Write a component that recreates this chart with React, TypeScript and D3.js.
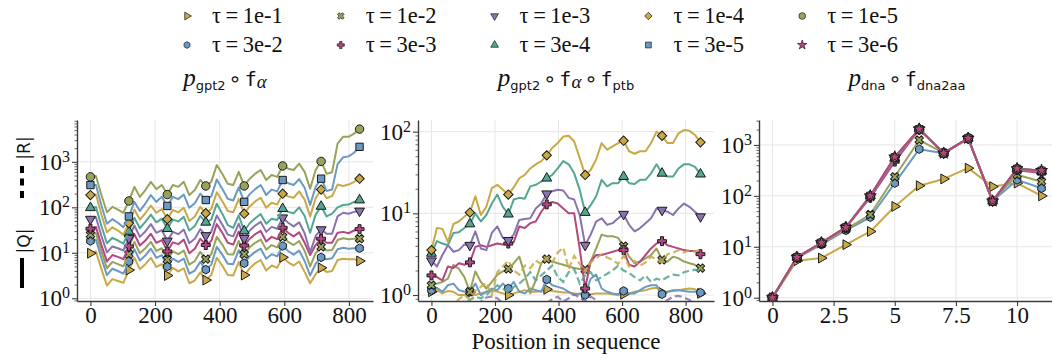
import React, { useRef, useEffect } from "react";
import * as d3 from "d3";

const WIDTH = 1052;
const HEIGHT = 359;

// legend entries, column by column as in the figure
const taus = ["1e-1", "3e-2", "1e-2", "3e-3", "1e-3", "3e-4", "1e-4", "3e-5", "1e-5", "3e-6"];
const tauColors = ["#c9a846", "#6a9ac3", "#98a35a", "#b3477f", "#8873ae", "#52a692", "#c9a846", "#6a9ac3", "#98a35a", "#b3477f"];
const tauMarkers = ["triRight", "hexagon", "xFilled", "plusFilled", "triDown", "triUp", "diamond", "square", "circle", "star"];

// ---------- p_gpt2 o f_alpha : |Q| at each sampled position (read as powers of ten) ----------
const gptPositions = d3.range(50).map((i) => i * 17);
const gptQ_1e1 = [0.99,1.03,0.64,0.28,0.42,0.38,0.34,0.62,0.89,0.64,0.75,0.89,0.69,0.75,0.50,0.67,0.59,0.66,0.33,0.39,0.57,0.40,0.51,0.89,0.72,0.51,0.50,0.80,0.51,0.66,0.77,0.84,0.61,0.72,0.67,0.90,0.79,0.72,0.81,0.58,0.33,0.53,0.67,0.58,0.60,0.84,0.87,0.86,0.86,0.82];
const gptQ_3e2 = [1.26,1.29,0.88,0.51,0.65,0.60,0.54,0.81,1.08,0.83,0.94,1.09,0.89,0.95,0.70,0.87,0.80,0.87,0.54,0.61,0.80,0.63,0.74,1.13,0.96,0.76,0.75,1.06,0.77,0.92,1.02,1.09,0.87,0.97,0.92,1.15,1.04,0.96,1.05,0.82,0.50,0.76,0.90,0.86,0.88,1.08,1.11,1.09,1.10,1.10];
const gptQ_1e2 = [1.40,1.43,1.03,0.66,0.80,0.75,0.70,0.97,1.24,0.99,1.10,1.24,1.04,1.10,0.85,1.03,0.97,1.05,0.74,0.82,1.02,0.86,0.97,1.35,1.18,0.97,0.96,1.26,0.97,1.12,1.22,1.29,1.07,1.17,1.12,1.35,1.24,1.17,1.26,1.04,0.70,0.99,1.13,1.05,1.06,1.28,1.32,1.30,1.31,1.31];
const gptQ_3e3 = [1.53,1.57,1.17,0.81,0.95,0.91,0.86,1.14,1.41,1.16,1.27,1.42,1.22,1.28,1.03,1.23,1.19,1.29,0.99,1.09,1.31,1.17,1.26,1.63,1.44,1.22,1.18,1.47,1.16,1.31,1.41,1.48,1.25,1.35,1.30,1.55,1.44,1.36,1.45,1.22,0.95,1.17,1.31,1.22,1.22,1.44,1.46,1.43,1.49,1.52];
const gptQ_1e3 = [1.74,1.78,1.37,1.01,1.14,1.10,1.05,1.32,1.60,1.35,1.47,1.63,1.44,1.50,1.26,1.46,1.41,1.51,1.21,1.31,1.52,1.38,1.46,1.82,1.62,1.40,1.36,1.64,1.32,1.49,1.60,1.68,1.46,1.57,1.53,1.77,1.66,1.58,1.67,1.43,1.01,1.37,1.51,1.42,1.42,1.80,1.88,1.86,1.90,1.92];
const gptQ_3e4 = [1.99,2.01,1.59,1.21,1.33,1.27,1.20,1.47,1.77,1.54,1.68,1.84,1.67,1.75,1.53,1.73,1.69,1.79,1.49,1.59,1.81,1.67,1.73,2.08,1.86,1.61,1.55,1.82,1.48,1.65,1.76,1.85,1.64,1.75,1.72,1.97,1.90,1.87,2.00,1.81,1.44,1.84,2.02,1.80,1.86,2.00,2.05,2.06,2.12,2.16];
const gptQ_1e4 = [2.27,2.28,1.84,1.45,1.56,1.49,1.40,1.65,1.95,1.73,1.87,2.04,1.88,1.96,1.74,1.94,1.89,1.99,1.70,1.80,2.01,1.87,1.96,2.33,2.14,1.92,1.89,2.18,1.86,2.02,2.13,2.21,1.99,2.10,2.06,2.30,2.24,2.21,2.35,2.17,1.80,2.20,2.39,2.20,2.25,2.50,2.47,2.50,2.56,2.63];
const gptQ_3e5 = [2.49,2.49,2.04,1.64,1.74,1.66,1.56,1.80,2.12,1.92,2.08,2.27,2.12,2.23,2.03,2.23,2.18,2.28,1.99,2.09,2.30,2.16,2.24,2.61,2.41,2.19,2.15,2.44,2.12,2.29,2.40,2.49,2.27,2.39,2.35,2.60,2.53,2.49,2.62,2.43,2.05,2.45,2.63,2.36,2.39,2.95,3.10,3.12,3.20,3.33];
const gptQ_1e5 = [2.67,2.69,2.27,1.89,2.01,1.95,1.88,2.14,2.45,2.23,2.38,2.56,2.40,2.49,2.28,2.49,2.45,2.56,2.27,2.38,2.60,2.47,2.56,2.93,2.74,2.52,2.49,2.78,2.47,2.63,2.74,2.82,2.60,2.71,2.67,2.91,2.85,2.82,2.96,2.78,2.41,2.82,3.01,2.74,2.77,3.40,3.55,3.55,3.62,3.72];

// ---------- p_gpt2 o f_alpha o f_ptb : |Q| (solid) and |R| (dashed), powers of ten ----------
const ptbPositions = d3.range(50).map((i) => i * 17.28);
const ptbQ_1e1 = [0.04,0.06,0.02,0.05,0.04,0.00,0.00,0.03,0.00,0.02,0.04,0.06,0.04,0.02,0.00,0.02,0.04,0.06,0.04,0.04,0.05,0.07,0.05,0.04,0.03,0.03,0.02,0.01,0.00,0.01,0.02,0.02,0.02,0.01,0.00,0.01,0.02,0.04,0.05,0.06,0.08,0.09,0.03,0.04,0.05,0.06,0.07,0.08,0.07,0.02];
const ptbQ_3e2 = [0.06,0.09,0.04,0.12,0.14,0.06,0.04,0.04,0.14,0.00,0.04,0.08,0.06,0.14,0.08,0.16,0.04,0.02,0.08,0.06,0.04,0.19,0.12,0.10,0.08,0.04,0.00,0.02,0.00,0.20,0.25,0.08,0.04,0.02,0.01,0.05,0.02,0.02,0.06,0.10,0.12,0.12,0.01,0.04,0.06,0.06,0.05,0.04,0.04,0.03];
const ptbQ_1e2 = [0.12,0.14,0.16,0.20,0.37,0.32,0.22,0.04,0.29,0.16,0.08,0.16,0.25,0.29,0.32,0.39,0.47,0.25,0.02,0.18,0.39,0.44,0.41,0.39,0.37,0.35,0.33,0.32,0.31,0.41,0.57,0.74,0.72,0.72,0.70,0.60,0.47,0.39,0.41,0.45,0.49,0.57,0.43,0.41,0.47,0.45,0.41,0.39,0.37,0.33];
const ptbQ_3e3 = [0.24,0.22,0.18,0.35,0.33,0.39,0.37,0.40,0.59,0.61,0.59,0.61,0.63,0.62,0.63,0.65,0.84,0.82,0.88,0.90,1.02,1.11,1.14,1.12,1.06,1.00,1.00,0.57,0.08,0.41,0.49,0.49,0.51,0.53,0.55,0.55,0.37,0.35,0.41,0.49,0.57,0.63,0.66,0.61,0.59,0.57,0.55,0.54,0.54,0.50];
const ptbQ_1e3 = [0.42,0.35,0.49,0.61,0.53,0.55,0.62,0.61,0.78,0.57,0.55,0.76,0.84,0.70,0.67,0.74,0.92,0.93,0.94,1.06,1.12,1.24,1.27,1.29,1.28,1.19,1.17,0.98,0.61,0.74,0.90,0.94,0.86,0.88,0.94,0.99,0.86,0.78,0.82,0.88,0.94,1.06,1.04,1.02,0.98,1.06,1.12,1.08,1.02,0.96];
const ptbQ_3e4 = [0.51,0.66,0.63,0.61,0.76,0.77,0.82,0.87,1.00,0.90,0.98,1.12,1.23,1.08,0.99,1.17,1.19,1.18,1.33,1.35,1.39,1.43,1.47,1.55,1.64,1.60,1.49,1.29,1.01,1.10,1.21,1.41,1.33,1.37,1.37,1.45,1.37,1.36,1.41,1.41,1.49,1.60,1.49,1.45,1.45,1.55,1.60,1.60,1.57,1.48];
const ptbQ_1e4 = [0.55,0.82,0.81,0.65,0.87,0.90,0.96,1.01,1.21,0.98,1.08,1.31,1.35,1.29,1.23,1.32,1.43,1.47,1.55,1.60,1.64,1.71,1.80,1.86,1.94,1.95,1.88,1.68,1.47,1.53,1.66,1.86,1.78,1.82,1.86,1.89,1.76,1.73,1.76,1.76,1.86,2.00,1.95,1.86,1.86,1.98,2.02,2.01,1.96,1.87];
const ptbR_1e3 = [-0.3,-0.3,-0.25,-0.3,-0.25,-0.2,-0.2,-0.15,-0.12,-0.08,-0.03,-0.02,-0.04,-0.1,-0.15,-0.2,-0.12,-0.15,-0.2,-0.18,-0.15,-0.1,-0.05,-0.02,-0.08,-0.04,0.01,-0.03,-0.08,-0.02,-0.06,-0.12,-0.2,-0.15,-0.1,-0.12,-0.1,-0.15,-0.2,-0.15,-0.1,-0.15,-0.12,-0.06,-0.02,-0.01,-0.03,-0.06,-0.12,-0.2];
const ptbR_3e4 = [-0.3,-0.25,-0.2,-0.2,-0.15,-0.1,-0.08,-0.06,-0.02,-0.04,0.0,0.06,0.12,0.08,0.03,0.10,0.14,0.20,0.28,0.18,0.24,0.30,0.36,0.22,0.16,0.28,0.32,0.14,0.24,0.28,0.18,0.22,0.26,0.30,0.36,0.30,0.27,0.22,0.18,0.24,0.16,0.20,0.18,0.22,0.25,0.24,0.28,0.30,0.31,0.29];
const ptbR_1e4 = [-0.15,-0.2,-0.15,-0.1,-0.12,-0.05,0.0,-0.05,0.05,0.10,0.15,0.0,0.28,0.35,0.42,0.30,0.25,0.36,0.33,0.42,0.38,0.46,0.40,0.52,0.58,0.32,0.48,0.38,0.28,0.40,0.45,0.50,0.46,0.43,0.38,0.48,0.35,0.42,0.36,0.40,0.47,0.44,0.40,0.50,0.52,0.55,0.52,0.55,0.53,0.56];

// ---------- p_dna o f_dna2aa : |Q| per position ----------
const dnaPositions = d3.range(12);
const dnaQ_1e1 = [1, 5.3, 6.0, 11, 20, 62, 158, 215, 350, 152, 178, 100];
const dnaQ_3e2 = [1, 6.0, 11, 21, 38, 178, 825, 690, 1350, 79, 206, 141];
const dnaQ_1e2 = [1, 6.1, 11.5, 22, 43, 237, 1250, 700, 1350, 80, 260, 190];
const dnaQ_3e3 = [1, 6.2, 12, 24, 92, 470, 2000, 690, 1350, 79, 320, 280];
const dnaQ_1e3 = [1, 6.2, 12, 24, 96, 530, 2030, 690, 1350, 79, 330, 295];
const dnaQ_3e4 = [1, 6.2, 12, 24, 100, 560, 2040, 690, 1350, 79, 335, 305];
const dnaQ_1e4 = [1, 6.2, 12, 24, 100, 570, 2040, 690, 1350, 79, 340, 310];
const dnaQ_3e5 = [1, 6.2, 12, 24, 100, 570, 2040, 690, 1350, 79, 340, 310];
const dnaQ_1e5 = [1, 6.2, 12, 24, 100, 575, 2045, 690, 1350, 79, 340, 312];
const dnaQ_3e6 = [1, 6.2, 12, 24, 100, 580, 2050, 690, 1350, 79, 342, 315];

// tick labels
const seqTicks = [0, 200, 400, 600, 800];
const dnaTicks = [0, 2.5, 5, 7.5, 10];

const SERIF = "Liberation Serif, Times New Roman, serif";
const SANS = "DejaVu Sans, sans-serif";
const MONO = "DejaVu Sans Mono, monospace";
const GRID = "#e6e6e6";
const AXIS = "#3c3c3c";

const TOP = 120;
const PH = 181;
const PW = 296;

const hexagon = {
  draw(ctx, size) {
    const r = Math.sqrt((2 * size) / (3 * Math.sqrt(3)));
    for (let k = 0; k < 6; k++) {
      const a = (Math.PI / 3) * k - Math.PI / 2;
      if (k === 0) ctx.moveTo(r * Math.cos(a), r * Math.sin(a));
      else ctx.lineTo(r * Math.cos(a), r * Math.sin(a));
    }
    ctx.closePath();
  },
};

const markerShapes = {
  triRight: { type: d3.symbolTriangle, rot: 90, size: 42 },
  hexagon: { type: hexagon, rot: 0, size: 48 },
  xFilled: { type: d3.symbolCross, rot: 45, size: 44 },
  plusFilled: { type: d3.symbolCross, rot: 0, size: 44 },
  triDown: { type: d3.symbolTriangle, rot: 180, size: 42 },
  triUp: { type: d3.symbolTriangle, rot: 0, size: 42 },
  diamond: { type: d3.symbolSquare, rot: 45, size: 44 },
  square: { type: d3.symbolSquare, rot: 0, size: 54 },
  circle: { type: d3.symbolCircle, rot: 0, size: 56 },
  star: { type: d3.symbolStar, rot: 0, size: 44 },
};

function markerPath(kind, scale = 1) {
  const m = markerShapes[kind];
  return d3.symbol().type(m.type).size(m.size * scale)();
}

function exp10(arr) {
  return arr.map((e) => Math.pow(10, e));
}

const gptSeries = [
  { tau: "1e-1", q: exp10(gptQ_1e1) },
  { tau: "3e-2", q: exp10(gptQ_3e2) },
  { tau: "1e-2", q: exp10(gptQ_1e2) },
  { tau: "3e-3", q: exp10(gptQ_3e3) },
  { tau: "1e-3", q: exp10(gptQ_1e3) },
  { tau: "3e-4", q: exp10(gptQ_3e4) },
  { tau: "1e-4", q: exp10(gptQ_1e4) },
  { tau: "3e-5", q: exp10(gptQ_3e5) },
  { tau: "1e-5", q: exp10(gptQ_1e5) },
];

const ptbSeries = [
  { tau: "1e-1", q: exp10(ptbQ_1e1) },
  { tau: "3e-2", q: exp10(ptbQ_3e2) },
  { tau: "1e-2", q: exp10(ptbQ_1e2) },
  { tau: "3e-3", q: exp10(ptbQ_3e3) },
  { tau: "1e-3", q: exp10(ptbQ_1e3), r: exp10(ptbR_1e3) },
  { tau: "3e-4", q: exp10(ptbQ_3e4), r: exp10(ptbR_3e4) },
  { tau: "1e-4", q: exp10(ptbQ_1e4), r: exp10(ptbR_1e4) },
];

const dnaSeries = [
  { tau: "1e-1", q: dnaQ_1e1 },
  { tau: "3e-2", q: dnaQ_3e2 },
  { tau: "1e-2", q: dnaQ_1e2 },
  { tau: "3e-3", q: dnaQ_3e3 },
  { tau: "1e-3", q: dnaQ_1e3 },
  { tau: "3e-4", q: dnaQ_3e4 },
  { tau: "1e-4", q: dnaQ_1e4 },
  { tau: "3e-5", q: dnaQ_3e5 },
  { tau: "1e-5", q: dnaQ_1e5 },
  { tau: "3e-6", q: dnaQ_3e6 },
];

const sub = (t, dy) => ({ t, font: SANS, size: 13, dy });
const ring = (dy) => ({ t: "\u2218", font: SANS, size: 21, dy, dx: 3 });
const titleGpt = [
  { t: "p", font: SERIF, size: 25, italic: true },
  sub("gpt2", 4),
  ring(-4),
  { t: "f", font: MONO, size: 20, dx: 3 },
  { t: "\u03b1", font: SERIF, size: 19, italic: true, dy: 2 },
];
const titlePtb = [
  ...titleGpt,
  ring(-2),
  { t: "f", font: MONO, size: 20, dx: 3 },
  sub("ptb", 4),
];
const titleDna = [
  { t: "p", font: SERIF, size: 25, italic: true },
  sub("dna", 4),
  ring(-4),
  { t: "f", font: MONO, size: 20, dx: 3 },
  sub("dna2aa", 4),
];

const panels = [
  { left: 77, xDomain: [-41.6, 874.6], yDomain: [Math.pow(10, -0.06), Math.pow(10, 3.92)], xTicks: seqTicks, positions: gptPositions, markEvery: 7, series: gptSeries, title: titleGpt },
  { left: 418, xDomain: [-42.35, 889.35], yDomain: [Math.pow(10, -0.073), Math.pow(10, 2.143)], xTicks: seqTicks, positions: ptbPositions, markEvery: 7, series: ptbSeries, title: titlePtb },
  { left: 759, xDomain: [-0.55, 11.55], yDomain: [Math.pow(10, -0.065), Math.pow(10, 3.49)], xTicks: dnaTicks, positions: dnaPositions, markEvery: 1, series: dnaSeries, title: titleDna },
];

function drawPanel(svg, p, idx) {
  const g = svg.append("g").attr("transform", `translate(${p.left},${TOP})`);
  const x = d3.scaleLinear().domain(p.xDomain).range([0, PW]);
  const y = d3.scaleLog().domain(p.yDomain).range([PH, 0]);

  const lo = Math.floor(Math.log10(p.yDomain[0]));
  const hi = Math.ceil(Math.log10(p.yDomain[1]));
  const majors = d3.range(lo, hi + 1).map((k) => Math.pow(10, k)).filter((v) => v >= p.yDomain[0] && v <= p.yDomain[1]);
  const minors = [];
  d3.range(lo, hi + 1).forEach((k) => {
    d3.range(2, 10).forEach((m) => {
      const v = m * Math.pow(10, k);
      if (v >= p.yDomain[0] && v <= p.yDomain[1]) minors.push(v);
    });
  });

  // grid
  g.append("g").selectAll("line").data(p.xTicks).join("line")
    .attr("x1", (d) => x(d)).attr("x2", (d) => x(d)).attr("y1", 0).attr("y2", PH)
    .attr("stroke", GRID).attr("stroke-width", 1);
  g.append("g").selectAll("line").data(majors).join("line")
    .attr("x1", 0).attr("x2", PW).attr("y1", (d) => y(d)).attr("y2", (d) => y(d))
    .attr("stroke", GRID).attr("stroke-width", 1);

  // data
  const clipId = `panel-clip-${idx}`;
  g.append("clipPath").attr("id", clipId).append("rect").attr("width", PW).attr("height", PH);
  const plot = g.append("g").attr("clip-path", `url(#${clipId})`);
  const line = d3.line().x((d) => x(d[0])).y((d) => y(d[1]));

  p.series.forEach((s) => {
    const ti = taus.indexOf(s.tau);
    const color = tauColors[ti];
    const shape = markerShapes[tauMarkers[ti]];
    const pts = s.q.map((v, i) => [p.positions[i], v]);
    plot.append("path").attr("d", line(pts))
      .attr("fill", "none").attr("stroke", color).attr("stroke-width", 2)
      .attr("stroke-linejoin", "round");
    if (s.r) {
      const rpts = s.r.map((v, i) => [p.positions[i], v]);
      plot.append("path").attr("d", line(rpts))
        .attr("fill", "none").attr("stroke", color).attr("stroke-width", 2.2)
        .attr("stroke-dasharray", "7,3.5").attr("opacity", 0.85);
    }
    const marks = pts.filter((_, i) => i % p.markEvery === 0);
    plot.append("g").selectAll("path").data(marks).join("path")
      .attr("d", markerPath(tauMarkers[ti]))
      .attr("transform", (d) => `translate(${x(d[0])},${y(d[1])}) rotate(${shape.rot})`)
      .attr("fill", color).attr("stroke", "#1a1a1a").attr("stroke-width", 1);
  });

  // x axis
  const xAxis = g.append("g").attr("transform", `translate(0,${PH})`)
    .call(d3.axisBottom(x).tickValues(p.xTicks).tickSize(5).tickSizeOuter(0).tickPadding(1).tickFormat((d) => String(d)));
  xAxis.select(".domain").attr("stroke", AXIS).attr("stroke-width", 1.4);
  xAxis.selectAll(".tick line").attr("stroke", AXIS).attr("stroke-width", 1.1);
  xAxis.selectAll(".tick text").style("font-family", SERIF).style("font-size", "23px").attr("fill", "#111");

  // y axis
  const yAxis = g.append("g")
    .call(d3.axisLeft(y).tickValues(majors).tickSize(5).tickSizeOuter(0).tickFormat(() => ""));
  yAxis.select(".domain").attr("stroke", AXIS).attr("stroke-width", 1.4);
  yAxis.selectAll(".tick line").attr("stroke", AXIS).attr("stroke-width", 1.1);
  const yMinor = g.append("g")
    .call(d3.axisLeft(y).tickValues(minors).tickSize(2.5).tickSizeOuter(0).tickFormat(() => ""));
  yMinor.select(".domain").remove();
  yMinor.selectAll(".tick line").attr("stroke", AXIS).attr("stroke-width", 0.8);

  const labels = g.append("g").selectAll("text").data(majors).join("text")
    .attr("x", -7).attr("y", (d) => y(d) + 8)
    .attr("text-anchor", "end").style("font-family", SERIF).style("font-size", "23px").attr("fill", "#111");
  labels.append("tspan").text("10");
  labels.append("tspan").style("font-size", "16px").attr("dy", -8).text((d) => String(Math.round(Math.log10(d))));

  // title
  const title = svg.append("text").attr("x", p.left + PW / 2).attr("y", 86)
    .attr("text-anchor", "middle").attr("fill", "#111");
  p.title.forEach((part) => {
    const ts = title.append("tspan").style("font-family", part.font).style("font-size", `${part.size}px`).text(part.t);
    if (part.italic) ts.style("font-style", "italic");
    if (part.dy) ts.attr("dy", part.dy);
    if (part.dx) ts.attr("dx", part.dx);
  });
}

function App() {
  const ref = useRef(null);

  useEffect(() => {
    const svg = d3.select(ref.current);
    svg.selectAll("*").remove();

    panels.forEach((p, i) => drawPanel(svg, p, i));

    // legend: 2 rows x 5 columns
    const legend = svg.append("g");
    taus.forEach((t, i) => {
      const col = Math.floor(i / 2);
      const row = i % 2;
      const mx = 187 + col * 153.8;
      const my = 16 + row * 29;
      const shape = markerShapes[tauMarkers[i]];
      legend.append("path")
        .attr("d", markerPath(tauMarkers[i], 0.62))
        .attr("transform", `translate(${mx},${my}) rotate(${shape.rot})`)
        .attr("fill", tauColors[i]).attr("stroke", "#1a1a1a").attr("stroke-width", 0.7);
      legend.append("text")
        .attr("x", mx + 25).attr("y", my + 7)
        .style("font-family", SERIF).style("font-size", "22.5px").attr("fill", "#111")
        .text(`\u03c4\u2009=\u2009${t}`);
    });

    // y label: solid = |Q|, dashed = |R|
    const yl = svg.append("g");
    yl.append("line").attr("x1", 22).attr("x2", 22).attr("y1", 258).attr("y2", 288)
      .attr("stroke", "#000").attr("stroke-width", 4);
    yl.append("line").attr("x1", 22).attr("x2", 22).attr("y1", 166).attr("y2", 198)
      .attr("stroke", "#000").attr("stroke-width", 4).attr("stroke-dasharray", "7,5.5");
    yl.append("text").attr("transform", "translate(30,241) rotate(-90)")
      .attr("text-anchor", "middle").style("font-family", SANS).style("font-size", "17px").attr("fill", "#111")
      .text("|Q|");
    yl.append("text").attr("transform", "translate(30,148) rotate(-90)")
      .attr("text-anchor", "middle").style("font-family", SANS).style("font-size", "17px").attr("fill", "#111")
      .text("|R|");

    // x label
    svg.append("text").attr("x", 418 + PW / 2).attr("y", 349)
      .attr("text-anchor", "middle").style("font-family", SERIF).style("font-size", "23px").attr("fill", "#111")
      .text("Position in sequence");
  }, []);

  return (
    <svg
      ref={ref}
      width={WIDTH}
      height={HEIGHT}
      style={{ position: "absolute", left: 0, top: 0, background: "#fff" }}
    />
  );
}

export default App;
